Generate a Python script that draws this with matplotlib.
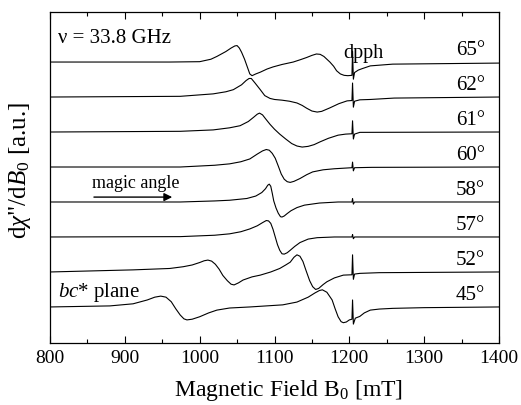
import matplotlib
matplotlib.use("Agg")
import matplotlib.pyplot as plt
from matplotlib.ticker import MultipleLocator

plt.rcParams['font.family'] = ['Liberation Serif', 'DejaVu Serif']
plt.rcParams['mathtext.fontset'] = 'custom'
plt.rcParams['mathtext.rm'] = 'Liberation Serif'
plt.rcParams['mathtext.it'] = 'Liberation Serif:italic'

angles = ["45°", "52°", "57°", "58°", "60°", "61°", "62°", "65°"]

b45 = [800, 880, 911, 930, 940, 948, 955, 962, 968, 974, 979, 983, 990, 1000, 1012, 1023, 1040, 1067, 1111, 1130, 1145, 1154, 1160, 1164, 1170, 1177, 1181, 1185, 1189, 1192, 1196, 1200, 1203.5, 1204.3, 1205.4, 1208, 1214, 1220, 1228, 1240, 1258, 1300, 1400]
s45 = [0, 0.03, 0.09, 0.2, 0.28, 0.31, 0.28, 0.15, -0.05, -0.23, -0.34, -0.37, -0.35, -0.28, -0.17, -0.09, -0.03, 0, 0.06, 0.14, 0.28, 0.4, 0.47, 0.49, 0.42, 0.2, -0.05, -0.28, -0.42, -0.45, -0.43, -0.37, -0.35, 0.2, -0.49, -0.32, -0.27, -0.17, -0.09, -0.06, -0.04, -0.02, 0]

b52 = [800, 911, 960, 978, 990, 1000, 1006, 1011, 1016, 1021, 1026, 1031, 1037, 1042, 1046, 1052, 1058, 1070, 1081, 1095, 1107, 1115, 1121, 1126, 1130, 1134, 1138, 1142, 1147, 1151, 1155, 1159, 1165, 1170, 1180, 1192, 1203.5, 1204.3, 1205.4, 1207, 1214, 1240, 1400]
s52 = [0, 0.06, 0.1, 0.15, 0.2, 0.27, 0.32, 0.34, 0.31, 0.22, 0.08, -0.1, -0.25, -0.35, -0.37, -0.31, -0.23, -0.14, -0.09, 0.0, 0.1, 0.2, 0.28, 0.42, 0.49, 0.45, 0.3, 0.05, -0.25, -0.42, -0.5, -0.47, -0.36, -0.28, -0.17, -0.09, -0.08, 0.49, -0.21, -0.06, -0.04, -0.02, 0]

b57 = [800, 974, 1020, 1040, 1055, 1067, 1077, 1084, 1089, 1092, 1095, 1098, 1101, 1104, 1107, 1110, 1113, 1117, 1121, 1127, 1134, 1145, 1157, 1180, 1203.5, 1204.3, 1205.4, 1207, 1400]
s57 = [0, 0.01, 0.05, 0.09, 0.15, 0.23, 0.32, 0.41, 0.47, 0.46, 0.39, 0.22, 0.0, -0.22, -0.38, -0.48, -0.49, -0.45, -0.38, -0.27, -0.16, -0.06, -0.02, 0, 0, 0.07, -0.05, 0, 0]

b58 = [800, 974, 1020, 1040, 1063, 1075, 1083, 1088, 1091, 1093, 1095, 1097, 1099, 1102, 1105, 1108, 1110, 1113, 1117, 1122, 1130, 1140, 1160, 1185, 1203.5, 1204.3, 1205.4, 1207, 1400]
s58 = [0, 0, 0.03, 0.05, 0.1, 0.17, 0.27, 0.38, 0.48, 0.51, 0.45, 0.25, 0.03, -0.17, -0.32, -0.42, -0.43, -0.4, -0.33, -0.25, -0.16, -0.09, -0.03, 0, 0, 0.1, -0.06, 0, 0]

b60 = [800, 974, 1020, 1040, 1055, 1067, 1077, 1084, 1089, 1093, 1097, 1101, 1105, 1109, 1113, 1117, 1121, 1126, 1134, 1143, 1151, 1165, 1180, 1203.5, 1204.3, 1205.4, 1207, 1230, 1400]
s60 = [0, 0, 0.05, 0.09, 0.15, 0.23, 0.37, 0.46, 0.5, 0.48, 0.39, 0.25, 0.03, -0.2, -0.35, -0.42, -0.44, -0.41, -0.33, -0.22, -0.14, -0.08, -0.05, -0.02, 0.14, -0.11, -0.02, -0.01, 0]

b61 = [800, 974, 1018, 1040, 1054, 1065, 1072, 1077, 1080, 1084, 1088, 1094, 1100, 1107, 1115, 1123, 1130, 1137, 1145, 1153, 1161, 1172, 1185, 1195, 1203.5, 1204.3, 1205.4, 1207, 1214, 1400]
s61 = [0, 0.02, 0.06, 0.12, 0.18, 0.3, 0.42, 0.51, 0.54, 0.49, 0.38, 0.22, 0.08, -0.06, -0.2, -0.33, -0.4, -0.43, -0.41, -0.36, -0.28, -0.18, -0.09, -0.06, -0.05, 0.32, -0.2, -0.06, -0.01, 0]

b62 = [800, 974, 1018, 1035, 1045, 1056, 1062, 1066, 1069, 1074, 1081, 1087, 1094, 1100, 1110, 1120, 1130, 1137, 1143, 1150, 1157, 1163, 1174, 1186, 1197, 1203.5, 1204.3, 1205.4, 1207, 1214, 1228, 1260, 1400]
s62 = [0, 0.02, 0.09, 0.15, 0.21, 0.35, 0.47, 0.53, 0.53, 0.4, 0.21, 0.04, -0.04, -0.07, -0.09, -0.12, -0.17, -0.24, -0.32, -0.4, -0.43, -0.41, -0.31, -0.19, -0.11, -0.1, 0.4, -0.29, -0.12, -0.08, -0.07, -0.03, 0]

b65 = [800, 960, 1000, 1015, 1023, 1035, 1042, 1047, 1050, 1053, 1056, 1060, 1063, 1067, 1070, 1075, 1081, 1090, 1098, 1110, 1125, 1135, 1143, 1150, 1156, 1161, 1166, 1174, 1179, 1183, 1188, 1193, 1198, 1203.5, 1204.3, 1205.4, 1207, 1212, 1217, 1228, 1258, 1400]
s65 = [0, 0, 0.01, 0.08, 0.16, 0.3, 0.4, 0.46, 0.47, 0.4, 0.28, 0.08, -0.1, -0.34, -0.39, -0.34, -0.29, -0.2, -0.14, -0.07, 0.0, 0.07, 0.13, 0.19, 0.23, 0.22, 0.16, 0.0, -0.12, -0.25, -0.34, -0.38, -0.39, -0.38, 0.31, -0.49, -0.3, -0.23, -0.19, -0.11, -0.06, -0.03]

fields = [b45, b52, b57, b58, b60, b61, b62, b65]
signals = [s45, s52, s57, s58, s60, s61, s62, s65]

fig = plt.figure(figsize=(5.21, 4.05), dpi=100)
ax = fig.add_axes([50/521, 1-343/405, 449/521, 331/405])

for i, (b, s) in enumerate(zip(fields, signals)):
    ax.plot(b, [v + i for v in s], color='black', lw=0.8)
    ax.text(1381, i + 0.33, angles[i], ha='right', va='center', fontsize=15)

ax.set_xlim(800, 1400)
ax.set_ylim(-1.03, 8.43)
ax.xaxis.set_major_locator(MultipleLocator(100))
ax.xaxis.set_minor_locator(MultipleLocator(50))
ax.tick_params(axis='x', which='both', direction='in', top=True, bottom=True, labelsize=14, pad=5)
ax.tick_params(axis='x', which='major', length=5, width=0.8)
ax.tick_params(axis='x', which='minor', length=3, width=0.8)
ax.set_yticks([])
for sp in ax.spines.values():
    sp.set_linewidth(0.9)

ax.text(810.7, 7.66, "ν = 33.8 GHz", ha='left', va='center', fontsize=15)
ax.text(1191.5, 7.11, "dpph", ha='left', va='baseline', fontsize=14.5)
ax.text(810.7, 0.4, r"$bc$* plane", ha='left', va='center', fontsize=15)
ax.text(915, 3.54, "magic angle", ha='center', va='center', fontsize=13)
ax.annotate('', xy=(967, 3.14), xytext=(855, 3.14),
            arrowprops=dict(arrowstyle='-|>', lw=1.0, color='black', mutation_scale=12))

fig.text(20/521, 1-171/405, r'd$\chi$"/d$B_0$ [a.u.]', rotation=90, ha='center', va='center', fontsize=18)
fig.text(289/521, 1-396/405, r'Magnetic Field B$_0$ [mT]', ha='center', va='baseline', fontsize=17)

fig.savefig("out.png", dpi=100)
